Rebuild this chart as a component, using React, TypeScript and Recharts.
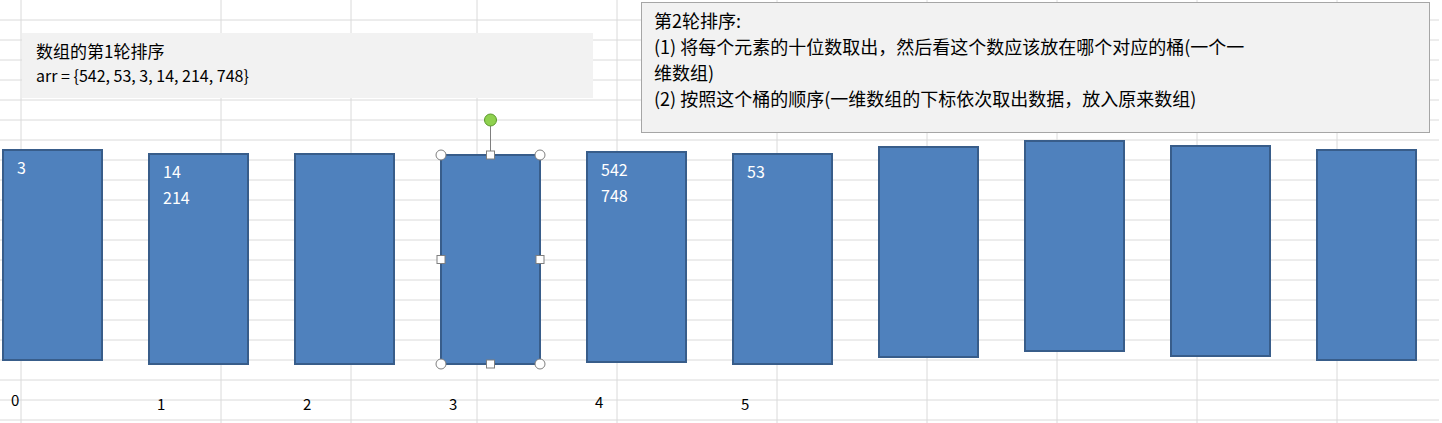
import { BarChart, Bar, XAxis, YAxis, CartesianGrid } from 'recharts';

const H = 423;
// bucket index, top / bottom edges (pixels from top)
const buckets = ['0', '1', '2', '3', '4', '5', '6', '7', '8', '9'];
const tops = [150, 154, 154, 155, 152, 154, 147, 141, 146, 150];
const bottoms = [360, 364, 364, 364, 362, 364, 357, 351, 356, 360];
const contents = [['3'], ['14', '214'], [], [], ['542', '748'], ['53'], [], [], [], []];
const shownLabels = ['0', '1', '2', '3', '4', '5'];

const data = buckets.map((b, i) => ({
  bucket: b,
  range: [H - bottoms[i], H - tops[i]],
  items: contents[i],
}));

const gridH = [20, 40, 60, 80, 100, 120, 140, 160, 180, 200, 220, 240, 260, 280, 300, 320, 340, 360, 380, 400, 420];
const gridV = [21, 221, 351, 477, 617, 777, 927, 1057, 1197, 1337];

const Bucket = (props: any) => {
  const { x, y, width, height, index, payload } = props;
  const sel = index === 3;
  const items: string[] = payload.items || [];
  const cx = x + width / 2;
  return (
    <g>
      <rect x={x} y={y} width={width} height={height} fill="#4f81bd" stroke="#385d8a" strokeWidth={2} />
      {items.map((t, k) => (
        <text key={k} x={x + 14} y={y + 24 + k * 26} fill="#ffffff" fontSize={16}>
          {t}
        </text>
      ))}
      {index < shownLabels.length && (
        <text x={x + 8} y={y + height + 46} fill="#000" fontSize={15}>
          {shownLabels[index]}
        </text>
      )}
      {sel && (
        <g stroke="#7f7f7f" strokeWidth={1}>
          <line x1={cx} y1={y} x2={cx} y2={y - 34} />
          <circle cx={cx} cy={y - 35} r={6} fill="#8fd14f" stroke="#5a9a2a" />
          {[[x, y], [x + width, y], [x, y + height], [x + width, y + height]].map((p, k) => (
            <circle key={k} cx={p[0]} cy={p[1]} r={5} fill="#fff" />
          ))}
          {[[cx, y], [cx, y + height], [x, y + height / 2], [x + width, y + height / 2]].map((p, k) => (
            <rect key={k} x={p[0] - 4} y={p[1] - 4} width={8} height={8} fill="#fff" />
          ))}
        </g>
      )}
    </g>
  );
};

export default function App() {
  return (
    <div style={{ position: 'absolute', left: 0, top: 0, width: 1442, height: H, overflow: 'hidden', background: '#fff', fontFamily: '"Noto Sans CJK SC", "Noto Sans", sans-serif' }}>
      <div style={{ position: 'absolute', left: -21, top: 0 }}>
        <BarChart width={1460} height={H} data={data} margin={{ top: 0, right: 0, bottom: 0, left: 0 }} barSize={99}>
          <CartesianGrid stroke="#dadada" horizontalPoints={gridH} verticalPoints={gridV.map((v) => v + 21)} />
          <XAxis dataKey="bucket" hide />
          <YAxis hide domain={[0, H]} />
          <Bar dataKey="range" shape={<Bucket />} isAnimationActive={false} />
        </BarChart>
      </div>
      <div style={{ position: 'absolute', left: 22, top: 33, width: 571, height: 65, background: '#f2f2f2', fontSize: 17, lineHeight: '24px', padding: '6px 14px', boxSizing: 'border-box', color: '#000' }}>
        <div>数组的第1轮排序</div>
        <div style={{ fontSize: 16 }}>arr = {'{'}542, 53, 3, 14, 214, 748{'}'}</div>
      </div>
      <div style={{ position: 'absolute', left: 641, top: 2, width: 789, height: 131, background: '#f2f2f2', border: '1px solid #a6a6a6', fontSize: 18, lineHeight: '26px', padding: '4px 12px', boxSizing: 'border-box', color: '#000', whiteSpace: 'nowrap' }}>
        <div>第2轮排序:</div>
        <div>(1) 将每个元素的十位数取出，然后看这个数应该放在哪个对应的桶(一个一</div>
        <div>维数组)</div>
        <div>(2) 按照这个桶的顺序(一维数组的下标依次取出数据，放入原来数组)</div>
      </div>
    </div>
  );
}
